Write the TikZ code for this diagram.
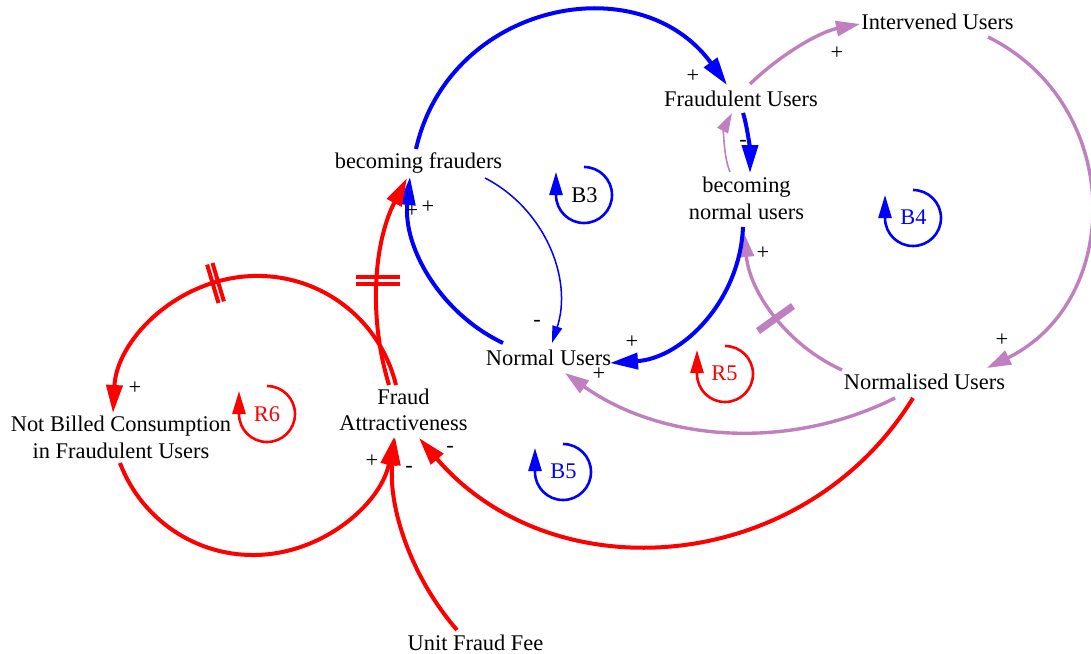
\documentclass[tikz,border=0pt]{standalone}
\usepackage{fontspec}
\setmainfont{Liberation Serif}
\usetikzlibrary{arrows.meta}
\definecolor{cblue}{RGB}{0,0,255}
\definecolor{cred}{RGB}{255,0,0}
\definecolor{cpurp}{RGB}{192,128,192}
\begin{document}
\begin{tikzpicture}[x=0.5pt,y=-0.5pt,
  every node/.style={inner sep=0pt, outer sep=0pt},
  txt/.style={font=\fontsize{11.2}{13.2}\selectfont, text=black},
  sgn/.style={font=\fontsize{11.2}{13.2}\selectfont, text=black},
  blueflow/.style={draw=cblue, line width=2pt, -{Triangle[length=14pt,width=8pt]}},
  bluethin/.style={draw=cblue, line width=0.75pt, -{Triangle[length=8.5pt,width=5pt]}},
  redflow/.style={draw=cred, line width=2pt, -{Triangle[length=14pt,width=8pt]}},
  purpflow/.style={draw=cpurp, line width=1.7pt, -{Triangle[length=12pt,width=7.5pt]}},
  purpthin/.style={draw=cpurp, line width=0.8pt, -{Triangle[length=10pt,width=6pt]}},
  loopicon/.style={line width=1.3pt, -{Triangle[length=11.5pt,width=6.5pt]}},
  delaybar/.style={line width=2pt, line cap=butt},
]
\useasboundingbox (0,0) rectangle (1091,653);

% variables
\node[txt, anchor=base] (bf) at (418.5,168) {becoming frauders};
\node[txt, anchor=base] (fu) at (741,106) {Fraudulent Users};
\node[txt, anchor=base] (iu) at (937.5,29) {Intervened Users};
\node[txt, align=center] (bnu) at (746.5,198.4) {becoming\\normal users};
\node[txt, anchor=base] (nu) at (548.5,365) {Normal Users};
\node[txt, anchor=base] (ns) at (924.5,389) {Normalised Users};
\node[txt, align=center] (fa) at (403.5,409.9) {Fraud\\Attractiveness};
\node[txt, align=center] (nb) at (121,437.3) {Not Billed Consumption\\in Fraudulent Users};
\node[txt, anchor=base] (uff) at (475.5,650) {Unit Fraud Fee};

% loop labels
\node[txt, anchor=base] (lb3) at (584.5,202) {B3};
\node[txt, anchor=base, text=cblue] (lb4) at (913.5,224) {B4};
\node[txt, anchor=base, text=cred] (lr5) at (724.5,380) {R5};
\node[txt, anchor=base, text=cblue] (lb5) at (563.5,478) {B5};
\node[txt, anchor=base, text=cred] (lr6) at (267,421) {R6};

% loop icons
\draw[loopicon, cblue] (584,167) arc[start angle=270, end angle=540, radius=28] -- (556,172);
\draw[loopicon, cblue] (913,190) arc[start angle=270, end angle=540, radius=28] -- (885,195);
\draw[loopicon, cred] (725,346) arc[start angle=270, end angle=540, radius=28] -- (697,350);
\draw[loopicon, cblue] (563,444) arc[start angle=270, end angle=540, radius=28] -- (535,448);
\draw[loopicon, cred] (267,386) arc[start angle=270, end angle=540, radius=28] -- (239,391);

% connectors
\draw[blueflow] ([shift={(-2.5,-19)}]bf.base) .. controls (449,3) and (639,-36) .. ([shift={(-14,-21)}]fu.base);
\draw[blueflow] ([shift={(2,7)}]fu.base) .. controls (747,125) and (750,150) .. ([shift={(3.5,-25.4)}]bnu.center);
\draw[purpthin] ([shift={(-16.5,-26.4)}]bnu.center) .. controls (723,155) and (724,128) .. ([shift={(-9,7)}]fu.base);
\draw[purpflow] ([shift={(9,-22)}]fu.base) .. controls (780,55) and (819,32) .. ([shift={(-77.5,-5)}]iu.base);
\draw[purpflow] ([shift={(50.5,8)}]iu.base) .. controls (1125,105) and (1124,301) .. ([shift={(62.5,-21)}]ns.base);
\draw[purpflow] ([shift={(-82.5,-19)}]ns.base) .. controls (787,345) and (750,293) .. ([shift={(-2.5,34.6)}]bnu.center);
\draw[purpflow] ([shift={(-29.5,9)}]ns.base) .. controls (789,451) and (662,442) .. ([shift={(16.5,8)}]nu.base);
\draw[blueflow] ([shift={(-3.5,28.6)}]bnu.center) .. controls (740,300) and (683,358) .. ([shift={(61.5,-2)}]nu.base);
\draw[blueflow] ([shift={(-45.5,-22)}]nu.base) .. controls (440,313) and (403,247) .. ([shift={(-8.5,9)}]bf.base);
\draw[bluethin] ([shift={(66.5,10)}]bf.base) .. controls (545,209) and (573,279) .. ([shift={(3.5,-22)}]nu.base);
\draw[redflow] ([shift={(-14.5,-24.9)}]fa.center) .. controls (368,316) and (374,242) .. ([shift={(-11.5,10)}]bf.base);
\draw[redflow] ([shift={(-7.5,-24.9)}]fa.center) .. controls (378.7,314.4) and (313,269.3) .. (242.3,276.7)
  .. controls (171.6,284.1) and (116.7,341.9) .. ([shift={(-8,-24.3)}]nb.center);
\draw[redflow] ([shift={(-1,25.7)}]nb.center) .. controls (142.7,523) and (202.6,560.4) .. (266.4,554.4)
  .. controls (330.2,548.4) and (382,500.4) .. ([shift={(-9.5,27.1)}]fa.center);
\draw[redflow] ([shift={(-18.5,-20)}]uff.base) .. controls (411,577) and (388,507) .. ([shift={(-8.5,27.1)}]fa.center);
\draw[redflow] ([shift={(-11.5,9)}]ns.base) .. controls (804,575) and (554,595) .. ([shift={(15.5,28.1)}]fa.center);

% delay marks
\draw[delaybar, cred] (356,277) -- (400,277) (356,283.5) -- (400,283.5);
\draw[delaybar, cred] (223.9,301.4) -- (212.5,263.0) (218.5,303.0) -- (207.1,264.6);
\draw[delaybar, cpurp, line width=1.75pt] (759,332.5) -- (794,307.5) (757,329.5) -- (792,304.5);

% polarity signs
\node[sgn] (p1) at (693,76) {+};
\node[sgn] (p2) at (837,53) {+};
\node[sgn] (m1) at (743,143) {-};
\node[sgn] (p3) at (1002,340) {+};
\node[sgn] (p4) at (763,253) {+};
\node[sgn] (p5) at (632,342) {+};
\node[sgn] (p6) at (599,374) {+};
\node[sgn] (m2) at (537,323) {-};
\node[sgn] (p7) at (412,211) {+};
\node[sgn] (p8) at (428,207) {+};
\node[sgn] (p9) at (135,388) {+};
\node[sgn] (p10) at (372,461) {+};
\node[sgn] (m3) at (409,469) {-};
\node[sgn] (m4) at (450,449) {-};
\end{tikzpicture}
\end{document}
